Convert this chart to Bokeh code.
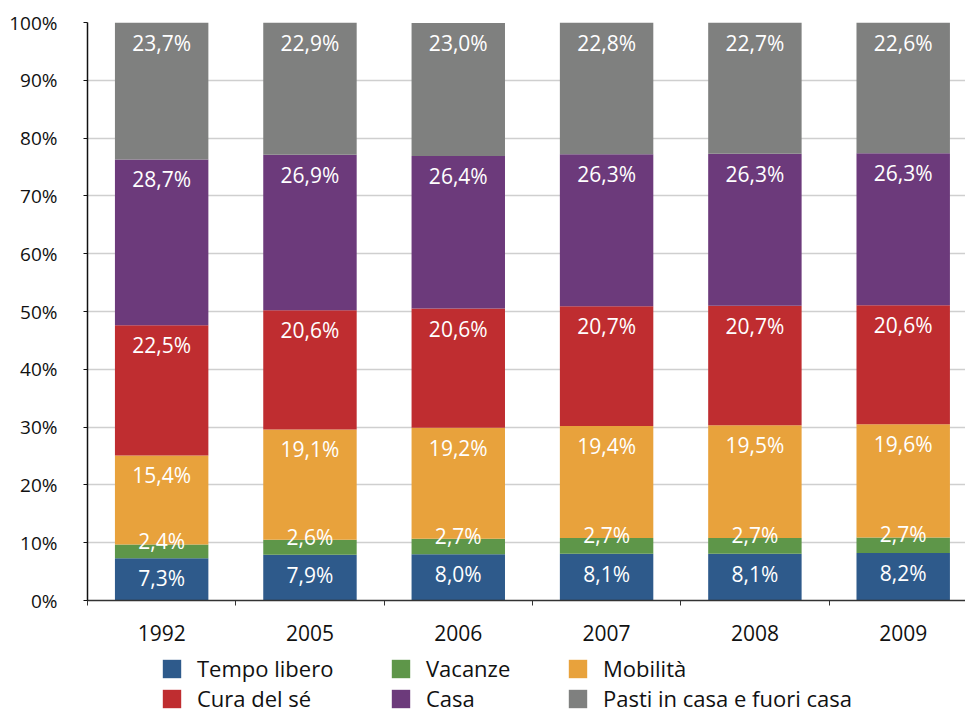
from bokeh.plotting import figure
from bokeh.models import (ColumnDataSource, FixedTicker, Legend, LegendItem, Range1d)
from bokeh.layouts import column
from bokeh.core.properties import value
from bokeh.embed import file_html
from bokeh.resources import INLINE

years = ["1992", "2005", "2006", "2007", "2008", "2009"]
series_names = ["Tempo libero", "Vacanze", "Mobilità", "Cura del sé", "Casa",
                "Pasti in casa e fuori casa"]
tempo_libero = [7.3, 7.9, 8.0, 8.1, 8.1, 8.2]
vacanze = [2.4, 2.6, 2.7, 2.7, 2.7, 2.7]
mobilita = [15.4, 19.1, 19.2, 19.4, 19.5, 19.6]
cura = [22.5, 20.6, 20.6, 20.7, 20.7, 20.6]
casa = [28.7, 26.9, 26.4, 26.3, 26.3, 26.3]
pasti = [23.7, 22.9, 23.0, 22.8, 22.7, 22.6]
colors = ["#2E5A8B", "#5E9649", "#E8A23C", "#BF2D30", "#6C3A7B", "#7F807F"]
y_ticks = [0, 10, 20, 30, 40, 50, 60, 70, 80, 90, 100]

FONT = "Open Sans"
series = [tempo_libero, vacanze, mobilita, cura, casa, pasti]
xs = [i + 0.5 for i in range(len(years))]

p = figure(width=965, height=652, output_backend="svg", toolbar_location=None,
           x_range=Range1d(0, 5.92), y_range=Range1d(0, 100))
p.min_border_left = 87
p.min_border_right = 0
p.min_border_top = 22
p.min_border_bottom = 52
p.outline_line_color = None
p.background_fill_color = "white"
p.border_fill_color = "white"

# grid
p.xgrid.grid_line_color = None
p.ygrid.grid_line_color = "#CFCFCF"
p.ygrid.grid_line_width = 1.5
p.ygrid.ticker = FixedTicker(ticks=y_ticks)

# y axis
p.yaxis.ticker = FixedTicker(ticks=y_ticks, minor_ticks=[])
p.yaxis.major_label_overrides = {t: f"{t}%" for t in y_ticks}
p.yaxis.major_label_text_font = FONT
p.yaxis.major_label_text_font_size = "19px"
p.yaxis.major_label_text_color = "#111111"
p.yaxis.axis_line_color = "#111111"
p.yaxis.axis_line_width = 1.5
p.yaxis.major_tick_line_color = "#111111"
p.yaxis.major_tick_out = 4
p.yaxis.major_tick_in = 0
p.yaxis.major_label_standoff = 26

# x axis
p.xaxis.ticker = FixedTicker(ticks=xs, minor_ticks=list(range(0, 7)))
p.xaxis.major_label_overrides = {x: y for x, y in zip(xs, years)}
p.xaxis.major_label_text_font = FONT
p.xaxis.major_label_text_font_size = "21px"
p.xaxis.major_label_text_color = "#111111"
p.xaxis.axis_line_color = "#333333"
p.xaxis.axis_line_width = 1.5
p.xaxis.major_tick_line_color = None
p.xaxis.minor_tick_line_color = "#333333"
p.xaxis.minor_tick_out = 5
p.xaxis.minor_tick_in = 0
p.xaxis.major_label_standoff = 18

bottoms = [0.0] * len(years)
sources = []
for name, vals, col in zip(series_names, series, colors):
    tops = [b + v for b, v in zip(bottoms, vals)]
    src = ColumnDataSource(dict(x=xs, bottom=bottoms, top=tops,
                                label=[f"{v:.1f}%".replace(".", ",") for v in vals]))
    p.vbar(x="x", bottom="bottom", top="top", width=0.63, source=src,
           fill_color=col, line_color=None)
    sources.append((name, src))
    bottoms = tops

for name, src in sources:
    off = -3 if name == "Vacanze" else 20
    p.text(x="x", y="top", text="label", source=src, text_color="white",
           text_font=value(FONT), text_font_size="21px", text_align="center",
           text_baseline="middle", y_offset=off)

# legend strip below the chart (frames are aligned with the main chart)
q = figure(width=965, height=61, output_backend="svg", toolbar_location=None,
           x_range=Range1d(0, 1), y_range=Range1d(0, 1))
q.min_border_left = 87
q.min_border_right = 0
q.min_border_top = 0
q.min_border_bottom = 0
q.axis.visible = False
q.grid.grid_line_color = None
q.outline_line_color = None
q.border_fill_color = "white"
leg_renderers = []
for vals, c in zip(series, colors):
    r = q.vbar(x=xs, top=vals, width=0.5, fill_color=c, line_color=None)
    r.visible = False
    leg_renderers.append(r)

cols = [(0, 3), (1, 4), (2, 5)]
xpos = [73, 302, 479]
for (a, b), xp in zip(cols, xpos):
    leg = Legend(items=[LegendItem(label=series_names[a], renderers=[leg_renderers[a]]),
                        LegendItem(label=series_names[b], renderers=[leg_renderers[b]])],
                 location=(xp, 0), orientation="vertical",
                 glyph_width=23, glyph_height=23, label_height=23,
                 label_standoff=14, spacing=0, padding=0, margin=0,
                 border_line_color=None, background_fill_alpha=0,
                 inactive_fill_alpha=0,
                 label_text_font=FONT, label_text_font_size="22px",
                 label_text_color="#111111")
    q.add_layout(leg, "center")

open("out.html", "w").write(file_html(column(p, q, spacing=0), INLINE))
